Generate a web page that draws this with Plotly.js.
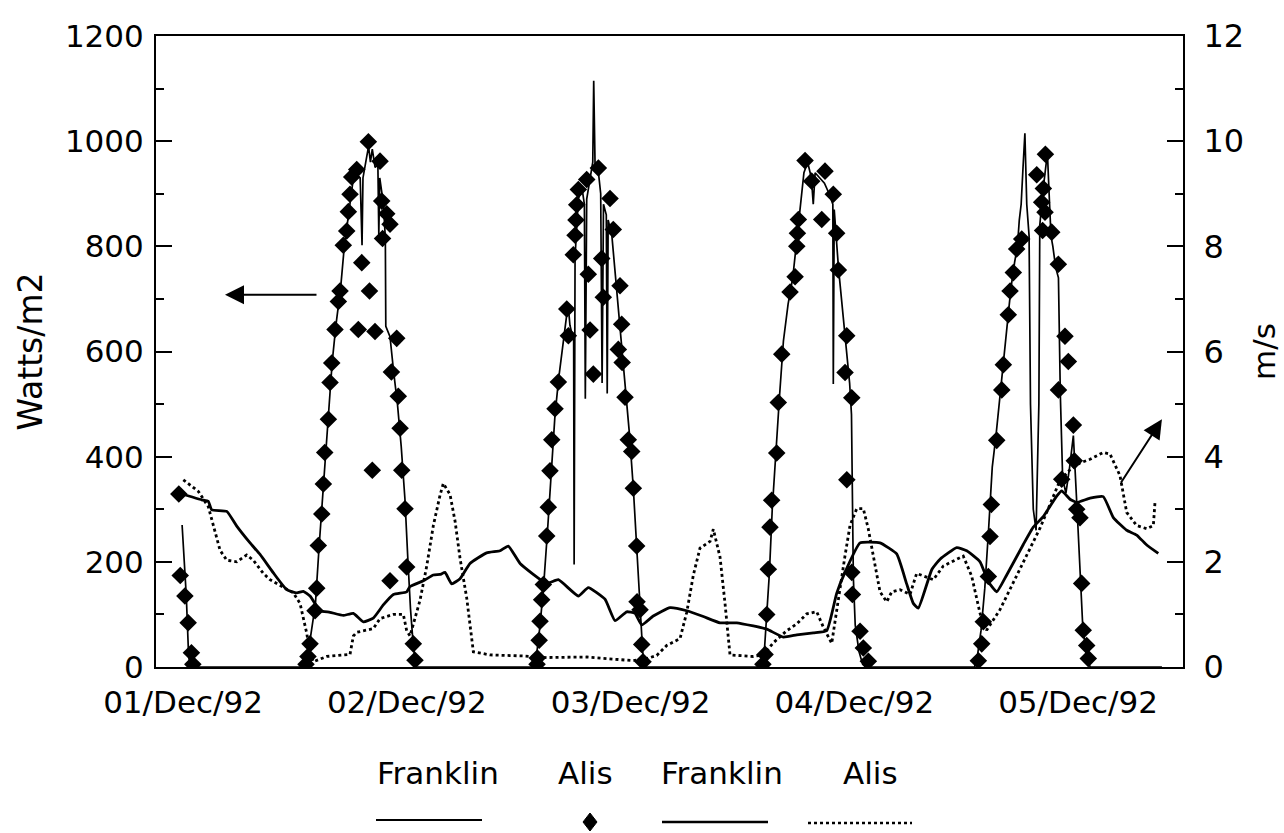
<!DOCTYPE html>
<html>
<head>
<meta charset="utf-8">
<script src="https://cdn.plot.ly/plotly-3.0.1.min.js"></script>
<style>html,body{margin:0;padding:0;background:#fff;}#chart{width:1284px;height:833px;}</style>
</head>
<body>
<div id="chart"></div>
<script>
// hours since 01/Dec/92 00:00
var dayTickHours = [0, 24, 48, 72, 96];
var dayTickLabels = ['01/Dec/92', '02/Dec/92', '03/Dec/92', '04/Dec/92', '05/Dec/92'];
var legendNames = ['Franklin', 'Alis', 'Franklin', 'Alis'];

// Franklin solar radiation (W/m2), thin solid line
var franklinSolarT = [-0.1,0.35,0.6,0.8,13.0,
13.3,13.7,14.2,14.6,15.0,15.6,16.0,16.4,16.9,17.3,17.8,18.2,18.6,19.0,19.2,19.3,19.6,19.9,20.1,20.3,20.6,20.9,21.0,21.1,21.5,21.7,21.75,22.2,22.6,23.0,23.4,23.8,24.1,24.4,24.7,25.0,
37.6,37.9,38.3,38.7,39.1,39.5,39.9,40.3,40.7,41.1,41.3,41.5,41.9,41.95,42.05,42.4,42.8,43.05,43.15,43.3,43.7,43.95,44.05,44.2,44.5,44.8,44.95,45.1,45.4,45.5,45.6,46.0,46.3,46.7,47.1,47.5,47.9,48.3,48.7,49.0,49.3,49.5,
61.9,62.3,62.6,62.9,63.2,63.6,64.0,64.4,64.9,65.4,65.8,66.2,66.6,67.0,67.4,67.6,67.8,68.3,68.8,69.3,69.7,69.75,69.85,70.3,70.7,71.1,71.5,71.7,71.8,71.9,72.1,72.5,72.9,73.2,
84.9,85.2,85.6,86.0,86.4,86.8,87.2,87.6,88.0,88.4,88.8,89.2,89.5,89.7,89.9,90.1,90.3,90.5,90.75,90.9,91.2,91.5,91.8,91.9,92.2,92.6,92.7,92.9,93.1,93.3,93.6,93.9,94.1,94.35,94.7,95.1,95.5,95.9,96.2,96.5,96.9,97.3,105.0];
var franklinSolarW = [270,135,20,0,0,
15,60,120,230,330,460,580,650,720,800,870,920,935,930,802,930,960,990,960,985,950,955,822,930,880,815,648,628,560,500,420,320,210,110,40,0,
0,20,80,160,260,380,480,550,610,660,690,650,620,195,780,890,910,880,510,890,930,960,1115,950,950,900,540,880,860,520,850,820,760,680,600,520,440,340,220,110,30,0,
0,15,90,180,300,400,520,620,690,740,810,870,940,960,930,880,940,930,920,900,880,538,870,760,690,620,540,480,300,170,80,30,5,0,
0,20,70,150,260,380,440,510,580,650,720,770,800,850,880,950,1015,880,820,500,300,260,500,840,900,960,985,900,820,800,760,740,520,360,330,380,440,300,180,80,20,0,0];

// Alis solar radiation (W/m2), diamonds
var alisSolarT = [-0.45,-0.3,0.2,0.55,0.9,1.05,
13.19,13.4,13.62,14.16,14.34,14.51,14.88,15.05,15.2,15.59,15.77,15.95,16.30,16.66,16.84,17.19,17.56,17.73,17.91,18.09,18.63,19.88,19.17,20.0,18.8,20.59,20.3,22.2,21.13,21.31,21.85,22.20,21.4,22.92,22.35,23.09,23.28,23.46,23.81,23.99,24.70,24.88,
37.97,38.0,38.2,38.29,38.47,38.65,39.01,39.18,39.36,39.55,39.90,40.26,41.16,41.33,41.86,42.05,42.15,42.23,42.40,43.30,44.55,43.47,43.66,44.01,45.80,46.15,44.91,46.87,45.08,47.05,46.69,47.1,47.41,47.76,48.13,48.30,48.66,48.7,49.02,49.20,49.34,
62.2,62.43,62.61,62.78,62.96,63.14,63.68,63.85,64.22,65.11,65.65,65.83,65.9,66.0,66.72,68.86,67.43,69.75,68.51,70.11,70.29,71.19,71.01,71.73,71.2,71.73,71.8,72.62,72.97,73.51,
85.31,85.67,85.84,86.38,86.56,86.7,87.28,87.82,87.99,88.52,88.71,89.06,89.42,89.96,91.57,92.1,92.46,92.2,93.18,93.89,92.28,92.5,94.6,94.96,93.9,95.50,95.6,94.25,95.86,96.21,96.39,96.56,96.93,97.10];
var alisSolarW = [329,174,135,84,27,5,
5,20,44,107,150,231,291,348,408,471,541,578,642,695,715,802,829,866,899,932,946,999,769,715,642,638,374,164,962,886,862,842,815,625,561,515,454,374,301,190,44,13,
5,17,51,87,128,157,249,304,373,432,491,542,681,630,784,821,850,879,908,927,949,747,641,557,891,832,777,725,703,652,604,579,513,432,410,340,230,124,109,43,10,
5,24,100,186,266,317,407,503,595,713,742,800,825,851,963,943,924,899,851,825,755,630,560,512,356,180,138,68,36,11,
12,44,86,172,248,309,431,527,575,670,715,750,795,814,936,884,865,830,827,766,910,975,629,581,527,460,392,357,300,284,159,70,41,16];

// Franklin wind speed (m/s), solid line, right axis
var franklinWindT = [-0.32,2.0,2.71,3.08,4.69,5.76,7.19,8.26,9.69,11.12,12.2,12.9,13.62,14.7,15.77,17.19,18.27,19.34,20.41,21.48,22.56,23.99,24.35,25.78,26.85,27.57,28.1,28.82,29.71,30.78,32.57,34.0,34.89,36.15,39.01,40.26,42.4,43.47,45.26,46.34,47.59,48.48,49.2,50.44,52.24,54.03,55.81,57.6,59.39,61.17,62.61,64.39,65.83,67.61,69.04,70.11,71.0,72.62,74.76,76.55,77.62,78.33,78.87,80.31,81.2,82.99,84.06,85.49,86.38,87.28,88.35,90.13,91.2,92.27,93.71,94.25,95.14,95.86,97.29,98.71,99.79,101.22,102.29,103.37,104.61];
var franklinWindV = [3.30,3.18,3.15,2.99,2.96,2.68,2.36,2.14,1.79,1.47,1.41,1.44,1.35,1.07,1.04,0.98,1.02,0.86,0.93,1.18,1.38,1.43,1.53,1.64,1.75,1.76,1.80,1.58,1.68,1.97,2.17,2.21,2.30,1.97,1.59,1.66,1.35,1.51,1.29,0.88,1.05,1.02,0.80,0.97,1.13,1.07,0.96,0.84,0.84,0.78,0.72,0.57,0.61,0.65,0.69,1.40,1.80,2.36,2.36,2.15,1.58,1.21,1.12,1.85,2.05,2.27,2.21,2.00,1.62,1.43,1.75,2.33,2.66,2.86,3.25,3.35,3.19,3.13,3.21,3.24,2.84,2.60,2.51,2.32,2.16];

// Alis wind speed (m/s), dotted line, right axis
var alisWindT = [0.03,1.64,2.71,3.25,3.97,4.69,5.76,6.83,7.54,8.61,9.33,11.83,12.55,13.27,13.62,13.98,15.41,17.91,18.27,18.63,20.41,21.13,22.56,23.63,23.99,24.35,25.42,26.14,26.85,27.57,27.92,28.64,29.18,29.71,30.43,31.14,32.93,36.5,39.01,43.3,48.3,49.74,50.81,51.88,53.31,54.03,54.74,55.45,56.53,56.88,57.6,58.14,58.67,61.17,62.24,63.31,64.75,65.83,66.9,67.97,68.68,69.58,70.11,71.0,71.54,72.26,72.97,73.5,74.76,75.48,76.02,76.91,77.98,78.69,80.48,81.55,83.69,84.59,85.49,86.2,87.63,89.06,90.49,91.92,92.99,94.07,95.14,96.21,97.29,98.71,99.43,100.5,101.22,102.29,103.37,104.08,104.26];
var alisWindV = [3.56,3.34,3.05,2.67,2.22,2.03,2.00,2.13,2.03,1.78,1.66,1.41,1.21,0.64,0.26,0.10,0.20,0.24,0.59,0.66,0.73,0.92,1.00,1.00,0.69,0.59,1.27,1.92,2.69,3.27,3.49,3.28,2.77,2.07,1.31,0.29,0.23,0.21,0.18,0.19,0.12,0.16,0.22,0.41,0.54,1.04,1.75,2.26,2.39,2.62,2.09,1.20,0.23,0.20,0.23,0.46,0.69,0.82,1.01,1.05,0.76,0.45,1.09,2.11,2.69,3.01,3.01,2.63,1.43,1.24,1.43,1.47,1.38,1.78,1.66,1.92,2.11,1.73,1.02,0.70,1.09,1.60,2.12,2.64,3.09,3.55,3.75,3.88,3.95,4.08,4.05,3.64,2.94,2.69,2.63,2.69,3.14];

var FONT = 'DejaVu Sans, Liberation Sans, sans-serif';

var traces = [
  {x: franklinSolarT, y: franklinSolarW, type: 'scatter', mode: 'lines', name: legendNames[0],
   line: {color: '#000', width: 1.7}, yaxis: 'y', showlegend: false},
  {x: alisSolarT, y: alisSolarW, type: 'scatter', mode: 'markers', name: legendNames[1],
   marker: {symbol: 'diamond', size: 13.5, color: '#000'}, yaxis: 'y', showlegend: false},
  {x: franklinWindT, y: franklinWindV, type: 'scatter', mode: 'lines', name: legendNames[2],
   line: {color: '#000', width: 2.8, shape: 'spline', smoothing: 0.4}, yaxis: 'y2', showlegend: false},
  {x: alisWindT, y: alisWindV, type: 'scatter', mode: 'lines', name: legendNames[3],
   line: {color: '#000', width: 2.8, dash: 'dot'}, yaxis: 'y2', showlegend: false}
];

// legend layout helpers (paper coords)
var L = 156, PW = 1027, B = 667, PH = 631;
function px(v){ return (v - L) / PW; }
function py(v){ return (B - v) / PH; }

var legendTextX = [438, 585, 722, 870];
var annotations = legendNames.map(function(n, i){
  return {text: n, xref: 'paper', yref: 'paper', x: px(legendTextX[i]), y: py(773),
          showarrow: false, xanchor: 'center', yanchor: 'middle', font: {family: FONT, size: 31, color: '#000'}};
});
annotations.push({xref: 'x', yref: 'y', x: 4.5, y: 708, ax: 93, ay: 0, text: '', showarrow: true,
  arrowhead: 2, arrowsize: 1.9, arrowwidth: 2, arrowcolor: '#000'});
annotations.push({xref: 'x', yref: 'y', x: 105.0, y: 471, ax: -42, ay: 65, text: '', showarrow: true,
  arrowhead: 2, arrowsize: 1.9, arrowwidth: 2, arrowcolor: '#000'});

var dcx = px(590), dcy = py(822), ddx = 7 / PW, ddy = 9 / PH;
var shapes = [
  {type: 'line', xref: 'paper', yref: 'paper', x0: px(376), x1: px(482), y0: py(820), y1: py(820), line: {color: '#000', width: 1.8}},
  {type: 'path', xref: 'paper', yref: 'paper',
   path: 'M' + dcx + ',' + (dcy + ddy) + ' L' + (dcx + ddx) + ',' + dcy + ' L' + dcx + ',' + (dcy - ddy) + ' L' + (dcx - ddx) + ',' + dcy + ' Z',
   fillcolor: '#000', line: {color: '#000', width: 1}},
  {type: 'line', xref: 'paper', yref: 'paper', x0: px(662), x1: px(768), y0: py(822), y1: py(822), line: {color: '#000', width: 2.6}},
  {type: 'line', xref: 'paper', yref: 'paper', x0: px(808), x1: px(912), y0: py(823), y1: py(823), line: {color: '#000', width: 2.6, dash: 'dot'}}
];

var layout = {
  width: 1284, height: 833,
  margin: {l: L, r: 1284 - L - PW, t: 36, b: 833 - B},
  paper_bgcolor: '#fff', plot_bgcolor: '#fff',
  font: {family: FONT, size: 32, color: '#000'},
  showlegend: false,
  xaxis: {range: [-2.9, 107.26], tickmode: 'array', tickvals: dayTickHours, ticktext: dayTickLabels,
          ticks: '', showline: true, mirror: true, linecolor: '#000', linewidth: 2,
          showgrid: false, zeroline: false, tickfont: {family: FONT, size: 31}, ticklabelstandoff: 7},
  yaxis: {range: [0, 1200], dtick: 200, ticks: 'inside', ticklen: 16, tickwidth: 2, tickcolor: '#000',
          minor: {dtick: 100, ticks: 'inside', ticklen: 8, tickwidth: 2, tickcolor: '#000'},
          showline: true, linecolor: '#000', linewidth: 2, showgrid: false, zeroline: false,
          tickfont: {family: FONT, size: 31}, ticklabelstandoff: 4,
          title: {text: 'Watts/m2', font: {family: FONT, size: 33}, standoff: 12}},
  yaxis2: {range: [0, 12], dtick: 2, overlaying: 'y', side: 'right', ticks: 'inside', ticklen: 16, tickwidth: 2, tickcolor: '#000',
           minor: {dtick: 1, ticks: 'inside', ticklen: 8, tickwidth: 2, tickcolor: '#000'},
           showline: true, linecolor: '#000', linewidth: 2, showgrid: false, zeroline: false,
           tickfont: {family: FONT, size: 32}, ticklabelstandoff: 12,
           title: {text: 'm/s', font: {family: FONT, size: 31}, standoff: 10}},
  annotations: annotations,
  shapes: shapes
};

Plotly.newPlot('chart', traces, layout, {staticPlot: true, displayModeBar: false});
</script>
</body>
</html>
